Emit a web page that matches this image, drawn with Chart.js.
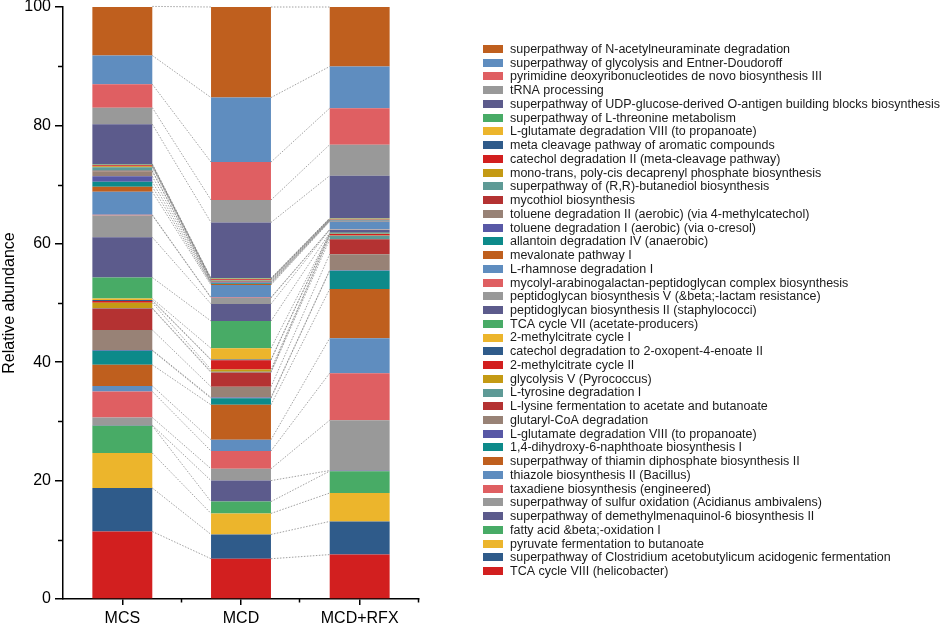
<!DOCTYPE html>
<html lang="en">
<head>
    <meta charset="UTF-8">
    <title>Relative abundance of pathways</title>
    <script src="https://cdn.jsdelivr.net/npm/chart.js"></script>
    <style>
        body { margin: 0; background: #fff; }
        #wrap { width: 941px; height: 626px; }
    </style>
</head>
<body>
    <div id="wrap"><canvas id="abundance-chart" width="941" height="626"></canvas></div>

    <script>
        // Groups on the x axis
        const categories = ['MCS', 'MCD', 'MCD+RFX'];

        // Pathways, bottom of the stack first
        const pathways = [
            'TCA cycle VIII (helicobacter)',
            'superpathway of Clostridium acetobutylicum acidogenic fermentation',
            'pyruvate fermentation to butanoate',
            'fatty acid &beta;-oxidation I',
            'superpathway of demethylmenaquinol-6 biosynthesis II',
            'superpathway of sulfur oxidation (Acidianus ambivalens)',
            'taxadiene biosynthesis (engineered)',
            'thiazole biosynthesis II (Bacillus)',
            'superpathway of thiamin diphosphate biosynthesis II',
            '1,4-dihydroxy-6-naphthoate biosynthesis I',
            'L-glutamate degradation VIII (to propanoate)',
            'glutaryl-CoA degradation',
            'L-lysine fermentation to acetate and butanoate',
            'L-tyrosine degradation I',
            'glycolysis V (Pyrococcus)',
            '2-methylcitrate cycle II',
            'catechol degradation to 2-oxopent-4-enoate II',
            '2-methylcitrate cycle I',
            'TCA cycle VII (acetate-producers)',
            'peptidoglycan biosynthesis II (staphylococci)',
            'peptidoglycan biosynthesis V (&beta;-lactam resistance)',
            'mycolyl-arabinogalactan-peptidoglycan complex biosynthesis',
            'L-rhamnose degradation I',
            'mevalonate pathway I',
            'allantoin degradation IV (anaerobic)',
            'toluene degradation I (aerobic) (via o-cresol)',
            'toluene degradation II (aerobic) (via 4-methylcatechol)',
            'mycothiol biosynthesis',
            'superpathway of (R,R)-butanediol biosynthesis',
            'mono-trans, poly-cis decaprenyl phosphate biosynthesis',
            'catechol degradation II (meta-cleavage pathway)',
            'meta cleavage pathway of aromatic compounds',
            'L-glutamate degradation VIII (to propanoate)',
            'superpathway of L-threonine metabolism',
            'superpathway of UDP-glucose-derived O-antigen building blocks biosynthesis',
            'tRNA processing',
            'pyrimidine deoxyribonucleotides de novo biosynthesis III',
            'superpathway of glycolysis and Entner-Doudoroff',
            'superpathway of N-acetylneuraminate degradation'
        ];

        // Relative abundance (%) per group, same order as pathways
        const mcs = [11.4, 7.35, 5.9, 4.6, 0.1, 1.3, 4.4, 0.95, 3.55, 2.4,
                     0.1, 3.4, 3.6, 0.1, 0.9, 0.3, 0.15, 0.25, 3.55, 6.8,
                     3.7, 0.1, 3.9, 0.85, 0.85, 0.9, 0.85, 0.1, 0.6, 0.15,
                     0.15, 0.1, 0.05, 0.1, 6.7, 2.8, 3.95, 4.85, 8.3];
        const mcd = [6.8, 4.1, 3.55, 2.0, 3.55, 2.0, 3.0, 1.9, 5.9, 1.1,
                     0.15, 1.8, 2.4, 0.15, 0.35, 1.6, 0.1, 1.9, 4.6, 2.9,
                     1.0, 0.1, 2.1, 0.15, 0.15, 0.1, 0.1, 0.1, 0.15, 0.1,
                     0.1, 0.05, 0.05, 0.1, 9.4, 3.8, 6.4, 10.9, 15.3];
        const mcdRfx = [7.5, 5.6, 4.8, 3.7, 0.1, 8.5, 7.95, 5.9, 8.3, 3.1,
                        0.1, 2.7, 2.5, 0.6, 0.05, 0.25, 0.05, 0.05, 0.1, 0.5,
                        0.05, 0.05, 1.3, 0.1, 0.05, 0.05, 0.05, 0.05, 0.05, 0.05,
                        0.05, 0.05, 0.05, 0.05, 7.15, 5.25, 6.15, 7.05, 10.05];

        // 15 colour cycle, starting from the bottom series
        const palette = ['#d21f1f', '#2f5b8a', '#ecb52c', '#48ab66', '#5c5b8c',
                         '#999999', '#df5f62', '#5f8dbf', '#bf5f1e', '#0d8a8a',
                         '#5858a6', '#988276', '#b43232', '#5e9a96', '#c49a14'];

        const datasets = pathways.map((name, i) => ({
            label: name,
            data: [mcs[i], mcd[i], mcdRfx[i]],
            backgroundColor: palette[i % palette.length],
            borderWidth: 0,
            barPercentage: 0.505,
            categoryPercentage: 1.0
        }));

        // Dotted lines joining each segment top between neighbouring bars
        const connectors = {
            id: 'connectors',
            afterDatasetsDraw(chart) {
                const ctx = chart.ctx;
                ctx.save();
                ctx.strokeStyle = '#7a7a7a';
                ctx.lineWidth = 0.7;
                ctx.setLineDash([1.5, 1.5]);
                chart.data.datasets.forEach((ds, d) => {
                    const bars = chart.getDatasetMeta(d).data;
                    for (let i = 0; i < bars.length - 1; i++) {
                        const a = bars[i], b = bars[i + 1];
                        ctx.beginPath();
                        ctx.moveTo(a.x + a.width / 2, a.y);
                        ctx.lineTo(b.x - b.width / 2, b.y);
                        ctx.stroke();
                    }
                });
                ctx.restore();
            }
        };

        // Minor ticks on both axes
        const minorTicks = {
            id: 'minorTicks',
            afterDraw(chart) {
                const ctx = chart.ctx;
                const xs = chart.scales.x, ys = chart.scales.y;
                ctx.save();
                ctx.strokeStyle = '#000';
                ctx.lineWidth = 1.5;
                [10, 30, 50, 70, 90].forEach(v => {
                    const py = Math.round(ys.getPixelForValue(v)) + 0.5;
                    ctx.beginPath();
                    ctx.moveTo(ys.right - 5, py);
                    ctx.lineTo(ys.right, py);
                    ctx.stroke();
                });
                const step = (xs.right - xs.left) / categories.length;
                for (let k = 1; k <= categories.length; k++) {
                    const px = Math.round(xs.left + k * step) - 0.5;
                    ctx.beginPath();
                    ctx.moveTo(px, xs.top);
                    ctx.lineTo(px, xs.top + 3.5);
                    ctx.stroke();
                }
                ctx.restore();
            }
        };

        // Legend on the right, top series first
        const sideLegend = {
            id: 'sideLegend',
            afterDraw(chart) {
                const ctx = chart.ctx;
                const items = chart.data.datasets.slice().reverse();
                ctx.save();
                ctx.font = '12.5px "Liberation Sans", Arial, sans-serif';
                ctx.textBaseline = 'middle';
                items.forEach((ds, i) => {
                    const y = 49 + i * 13.74;
                    ctx.fillStyle = ds.backgroundColor;
                    ctx.fillRect(483, Math.round(y - 4), 20, 8);
                    ctx.fillStyle = '#1a1a1a';
                    ctx.fillText(ds.label, 510, y + 0.5);
                });
                ctx.restore();
            }
        };

        Chart.defaults.font.family = '"Liberation Sans", Arial, sans-serif';
        Chart.defaults.color = '#000';

        const ctx = document.getElementById('abundance-chart').getContext('2d');
        const chart = new Chart(ctx, {
            type: 'bar',
            data: { labels: categories, datasets: datasets },
            options: {
                responsive: false,
                animation: false,
                layout: { padding: { top: 7, right: 522, left: 0, bottom: 0 } },
                plugins: {
                    legend: { display: false },
                    tooltip: { enabled: false }
                },
                scales: {
                    x: {
                        stacked: true,
                        ticks: { color: '#000', font: { size: 16 }, padding: 4 },
                        grid: { offset: false, drawOnChartArea: false, tickLength: 6, color: '#000', lineWidth: 1.5 },
                        border: { color: '#000', width: 1.5 },
                        afterFit: s => { s.height = 27; s.paddingLeft = 0; s.paddingRight = 0; }
                    },
                    y: {
                        stacked: true,
                        min: 0,
                        max: 100,
                        ticks: { stepSize: 20, color: '#000', font: { size: 16 }, padding: 4 },
                        grid: { drawOnChartArea: false, tickLength: 8, color: '#000', lineWidth: 1.5 },
                        border: { color: '#000', width: 1.5 },
                        title: { display: true, text: 'Relative abundance', color: '#000', font: { size: 16 }, padding: 0 },
                        afterFit: s => { s.width = 63; s.paddingTop = 7; s.paddingBottom = 0; }
                    }
                }
            },
            plugins: [connectors, minorTicks, sideLegend]
        });
    </script>
</body>
</html>
